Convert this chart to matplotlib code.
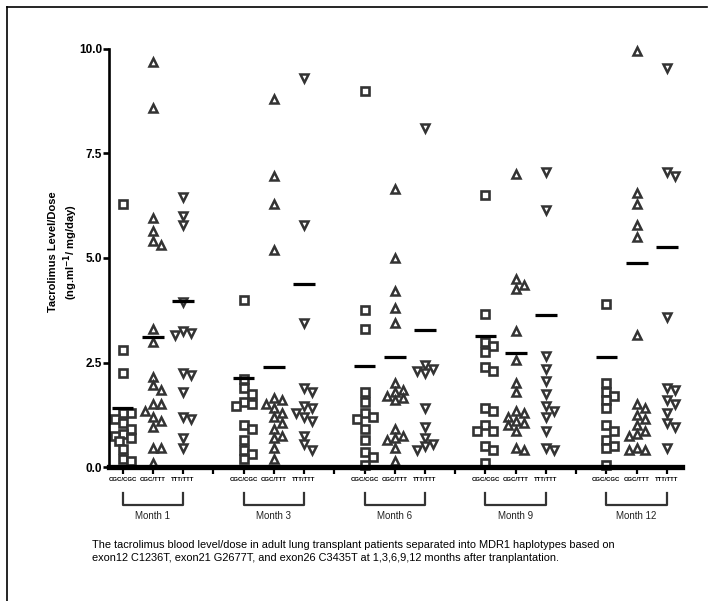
import matplotlib
matplotlib.use("Agg")
import matplotlib.pyplot as plt
import numpy as np
from matplotlib.lines import Line2D

plt.rcParams['font.family'] = ['Liberation Sans', 'DejaVu Sans']

# ---------------- data ----------------
months = ['Month 1', 'Month 3', 'Month 6', 'Month 9', 'Month 12']
haplotypes = ['CGC/CGC', 'CGC/TTT', 'TTT/TTT']

m1_cgc_cgc = [6.3, 2.8, 2.25, 1.3, 1.3, 1.15, 1.05, 0.9, 0.78, 0.75, 0.7, 0.62, 0.42, 0.2, 0.15]
m1_cgc_ttt = [9.7, 8.6, 5.95, 5.65, 5.4, 5.3, 3.3, 3.0, 2.15, 1.95, 1.85, 1.5, 1.5, 1.35, 1.2, 1.1, 0.95, 0.45, 0.45, 0.1]
m1_ttt_ttt = [6.45, 6.0, 5.8, 3.95, 3.25, 3.15, 3.2, 2.25, 2.2, 1.8, 1.2, 1.15, 0.7, 0.45]

m3_cgc_cgc = [4.0, 2.1, 1.9, 1.75, 1.55, 1.5, 1.45, 1.0, 0.9, 0.65, 0.4, 0.3, 0.2]
m3_cgc_ttt = [8.8, 6.95, 6.3, 5.2, 1.65, 1.6, 1.5, 1.4, 1.3, 1.2, 1.05, 0.9, 0.75, 0.7, 0.45, 0.2]
m3_ttt_ttt = [9.3, 5.8, 3.45, 1.9, 1.8, 1.45, 1.4, 1.3, 1.2, 1.1, 0.75, 0.55, 0.4]

m6_cgc_cgc = [9.0, 3.75, 3.3, 1.8, 1.55, 1.3, 1.2, 1.15, 0.9, 0.65, 0.35, 0.25, 0.05]
m6_cgc_ttt = [6.65, 5.0, 4.2, 3.8, 3.45, 2.0, 1.85, 1.8, 1.7, 1.65, 1.6, 0.9, 0.75, 0.7, 0.65, 0.45, 0.15]
m6_ttt_ttt = [8.1, 2.45, 2.35, 2.3, 2.25, 1.4, 0.95, 0.7, 0.55, 0.5, 0.4]

m9_cgc_cgc = [6.5, 3.65, 3.0, 2.9, 2.75, 2.4, 2.3, 1.4, 1.35, 1.0, 0.85, 0.85, 0.5, 0.4, 0.1]
m9_cgc_ttt = [7.0, 4.5, 4.35, 4.25, 3.25, 2.55, 2.0, 1.8, 1.35, 1.3, 1.2, 1.1, 1.05, 1.0, 0.85, 0.45, 0.4]
m9_ttt_ttt = [7.05, 6.15, 2.65, 2.35, 2.05, 1.75, 1.45, 1.35, 1.2, 0.85, 0.45, 0.4]

m12_cgc_cgc = [3.9, 2.0, 1.8, 1.7, 1.6, 1.4, 1.0, 0.85, 0.65, 0.5, 0.45, 0.05]
m12_cgc_ttt = [9.95, 6.55, 6.3, 5.8, 5.5, 3.15, 1.5, 1.4, 1.25, 1.15, 1.0, 0.85, 0.8, 0.75, 0.45, 0.4, 0.4]
m12_ttt_ttt = [9.55, 7.05, 6.95, 3.6, 1.9, 1.85, 1.6, 1.5, 1.3, 1.05, 0.95, 0.45]

# group mean lines as drawn
means_cgc_cgc = [1.42, 2.14, 2.42, 3.13, 2.64]
means_cgc_ttt = [3.10, 2.40, 2.64, 2.72, 4.87]
means_ttt_ttt = [3.96, 4.38, 3.28, 3.64, 5.27]

y_ticks = [0.0, 2.5, 5.0, 7.5, 10.0]
y_label = 'Tacrolimus Level/Dose\n(ng.ml$^{\\mathbf{-1}}$/ mg/day)'
caption = ('The tacrolimus blood level/dose in adult lung transplant patients separated into MDR1 haplotypes based on\n'
           'exon12 C1236T, exon21 G2677T, and exon26 C3435T at 1,3,6,9,12 months after tranplantation.')

groups = [
    [m1_cgc_cgc, m1_cgc_ttt, m1_ttt_ttt],
    [m3_cgc_cgc, m3_cgc_ttt, m3_ttt_ttt],
    [m6_cgc_cgc, m6_cgc_ttt, m6_ttt_ttt],
    [m9_cgc_cgc, m9_cgc_ttt, m9_ttt_ttt],
    [m12_cgc_cgc, m12_cgc_ttt, m12_ttt_ttt],
]
means = [means_cgc_cgc, means_cgc_ttt, means_ttt_ttt]

# ---------------- figure ----------------
W, H = 715, 601
fig = plt.figure(figsize=(W / 100, H / 100), dpi=100)
ax = fig.add_axes([109 / W, 1 - 467 / H, (682 - 109) / W, (467 - 49) / H])

n_slots = len(months) * 4 - 1
ax.set_xlim(-0.45, n_slots - 0.5)
ax.set_ylim(0, 10)

ink = '#333333'
markers = ['s', '^', 'v']
msizes = [5.4, 5.8, 5.8]
mews = [1.9, 1.8, 1.8]
diam_px = [8.0, 8.0, 8.0]


def swarm_offsets(vals, xc, diam):
    """simple beeswarm: returns x positions (data) limiting overlap in pixels"""
    tr = ax.transData
    pts = [tr.transform((xc, v)) for v in vals]
    order = np.argsort(vals)[::-1]
    placed = []
    xs = np.zeros(len(vals))
    step = diam * 0.5
    ks = [0, 1, -1, 2, -2, 3, -3]
    for i in order:
        px, py = pts[i]
        best, best_d = px, -1.0
        for k in ks:
            cand = px + k * step
            dmin = min([np.hypot(cand - qx, py - qy) for qx, qy in placed] + [1e9])
            if dmin >= diam * 0.95:
                best = cand
                break
            if dmin > best_d:
                best, best_d = cand, dmin
        placed.append((best, py))
        xs[i] = tr.inverted().transform((best, py))[0]
    return xs


for gi, grp in enumerate(groups):
    for hi, vals in enumerate(grp):
        xc = gi * 4 + hi
        xs = swarm_offsets(vals, xc, diam_px[hi])
        ax.plot(xs, vals, linestyle='none', marker=markers[hi], ms=msizes[hi],
                mfc='white', mec=ink, mew=mews[hi], clip_on=False, zorder=3)
        ax.hlines(means[hi][gi], xc - 0.36, xc + 0.36, color='black', lw=2.3, zorder=4)

# axes styling
for s in ['top', 'right']:
    ax.spines[s].set_visible(False)
ax.spines['left'].set_linewidth(1.9)
ax.spines['bottom'].set_linewidth(3.8)
ax.spines['left'].set_zorder(5)
ax.spines['bottom'].set_zorder(5)

ax.set_yticks(y_ticks)
ax.set_yticklabels([f'{t:.1f}' for t in y_ticks], fontsize=8.5, fontweight='bold')
ax.tick_params(axis='y', direction='out', length=4, width=1.9, pad=1)

xt = list(range(n_slots))
xl = []
for gi in range(len(months)):
    xl += haplotypes + ([''] if gi < len(months) - 1 else [])
ax.set_xticks(xt)
ax.set_xticklabels(xl, fontsize=4.3, fontweight='bold')
ax.tick_params(axis='x', direction='out', length=5, width=1.6, pad=2)

# month brackets
for gi, m in enumerate(months):
    x0, x1 = gi * 4, gi * 4 + 2
    trans = ax.get_xaxis_transform()
    ax.add_line(Line2D([x0, x0, x1, x1], [-0.062, -0.090, -0.090, -0.062], transform=trans,
                       color=ink, lw=1.6, clip_on=False))
    ax.text((x0 + x1) / 2, -0.118, m, transform=trans, ha='center', va='center',
            fontsize=7, color='#222222')

fig.text(64 / W, 1 - 252 / H, y_label, rotation=90, ha='center', va='center',
         fontsize=8, fontweight='bold', linespacing=1.3)

fig.text(92 / W, 1 - 540 / H, caption, ha='left', va='top', fontsize=7.95, linespacing=1.35)

# page frame
fig.add_artist(Line2D([7 / W, 7 / W], [0, 1 - 7 / H], transform=fig.transFigure, color='black', lw=1.2))
fig.add_artist(Line2D([7 / W, 707 / W], [1 - 7 / H, 1 - 7 / H], transform=fig.transFigure, color='black', lw=1.2))

fig.savefig('out.png', dpi=100)
